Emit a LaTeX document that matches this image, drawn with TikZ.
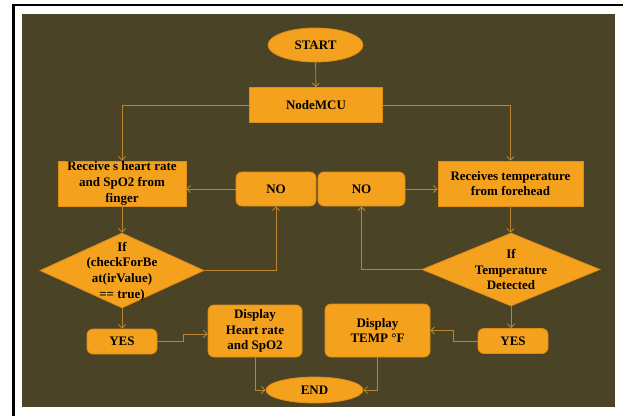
\documentclass[tikz,border=0pt]{standalone}
\usepackage{fontspec}
\setmainfont{Liberation Serif}
\usetikzlibrary{shapes.geometric,arrows.meta}
\definecolor{bgdark}{RGB}{74,67,38}
\definecolor{orfill}{RGB}{244,162,30}
\definecolor{ordraw}{RGB}{222,140,20}
\definecolor{lineor}{RGB}{184,134,48}
\tikzset{
  base/.style={fill=orfill,draw=ordraw,line width=0.8pt,inner sep=0pt,align=center,
    font=\fontsize{13}{15.8}\selectfont\bfseries,text=black},
  boxrect/.style={base,rectangle},
  boxround/.style={base,rectangle,rounded corners=6pt},
  oval/.style={base,ellipse},
  decision/.style={base,diamond},
  dtext/.style={inner sep=0pt,align=center,font=\fontsize{13}{15.8}\selectfont\bfseries,text=black},
  arr/.style={draw=lineor,line width=0.9pt,-{Straight Barb[length=3.5pt,width=7pt]}}
}
\begin{document}
\begin{tikzpicture}[x=1pt,y=-1pt]
\useasboundingbox (0,0) rectangle (623,416);
\fill[white] (0,0) rectangle (623,416);
\fill[bgdark] (22,14) rectangle (615,407);
\draw[black,line width=2.2pt] (12,5) -- (623,5);
\draw[black,line width=3pt] (13.5,4) -- (13.5,416);

\node[oval,minimum width=95pt,minimum height=34pt] (start) at (315.5,45) {START};
\node[boxrect,minimum width=133pt,minimum height=35pt] (mcu) at (316,105) {NodeMCU};
\node[boxrect,minimum width=128pt,minimum height=45pt] (recv) at (122,183.5) {Receive s heart rate\\and SpO2 from\\finger};
\node[boxrect,minimum width=145pt,minimum height=45pt] (temp) at (510.5,183.5) {Receives temperature\\from forehead};
\node[boxround,minimum width=80pt,minimum height=34pt] (noa) at (276,189) {NO};
\node[boxround,minimum width=87pt,minimum height=34pt] (nob) at (361.5,189) {NO};
\node[decision,minimum width=164pt,minimum height=75pt] (dia) at (122,270.5) {};
\node[dtext] (diat) at (122,271.5) {If\\(checkForBe\\at(irValue)\\== true)};
\node[decision,minimum width=178pt,minimum height=73pt] (dib) at (511,269.5) {};
\node[dtext] (dibt) at (511,269.5) {If\\Temperature\\Detected};
\node[boxround,minimum width=70pt,minimum height=25pt] (yesa) at (122,341.5) {YES};
\node[boxround,minimum width=70pt,minimum height=25pt] (yesb) at (513,341) {YES};
\node[boxround,minimum width=94pt,minimum height=52pt] (dispa) at (255,331) {Display\\Heart rate\\and SpO2};
\node[boxround,minimum width=105pt,minimum height=53pt] (dispb) at (377.5,330.5) {Display\\TEMP °F};
\node[oval,minimum width=97pt,minimum height=26pt] (end) at (314.5,390) {END};

\draw[arr] (start) -- (mcu);
\draw[arr] (mcu.west) -| (recv.north);
\draw[arr] (mcu.east) -| (temp.north);
\draw[arr] (recv) -- (dia);
\draw[arr] (dia.east) -| (noa.south);
\draw[arr] (noa.west) -- (noa.west -| recv.east);
\draw[arr] (dia.south) -- (yesa.north);
\draw[arr] (yesa.east) -- ++(26,0) |- ([yshift=-3pt]dispa.west);
\draw[arr] (dispa.south) |- (end.west);
\draw[arr] (temp) -- (temp.south |- dib.north);
\draw[arr] (dib.west) -| (nob.south);
\draw[arr] (nob.east) -- (nob.east -| temp.west);
\draw[arr] (dib.south) -- (dib.south |- yesb.north);
\draw[arr] (yesb.west) -- ++(-24,0) |- (dispb.east);
\draw[arr] (dispb.south) |- (end.east);
\end{tikzpicture}
\end{document}
